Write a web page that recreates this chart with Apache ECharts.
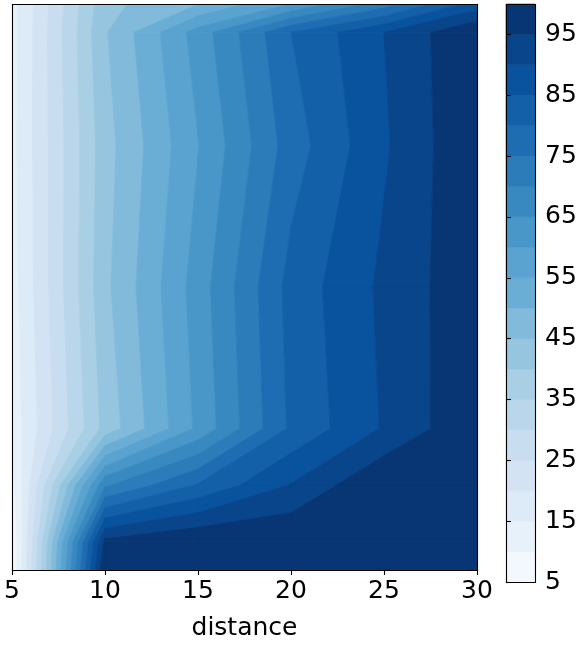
<!DOCTYPE html>
<html><head><meta charset="utf-8">
<script src="https://cdn.jsdelivr.net/npm/echarts@6/dist/echarts.min.js"></script>
<style>html,body{margin:0;padding:0;background:#fff}#c{width:581px;height:646px}</style>
</head><body><div id="c"></div>
<script>
// ---- data ----
const distance = [5, 10, 15, 20, 25, 30];            // grid columns (x)
const rowPos   = [0, 0.05, 0.15, 0.25, 0.5, 0.75, 0.95, 1.0]; // grid rows (y, unlabelled axis)
const z_row_000 = [5.0, 100, 100, 100, 100, 100];
const z_row_005 = [5.0, 96.5, 100, 100, 100, 100];
const z_row_015 = [8.4, 69.2, 80.6, 90.3, 100, 100];
const z_row_025 = [11.8, 41.7, 61.1, 81.0, 90.5, 99.5];
const z_row_050 = [12.8, 43.8, 62.4, 81.9, 91.1, 99.0];
const z_row_075 = [13.5, 43.0, 59.8, 77.5, 89.3, 100];
const z_row_095 = [13.0, 44.5, 62.2, 80.0, 90.0, 100];
const z_row_100 = [13.0, 43.5, 49.8, 60.1, 72.6, 87.5];
const levels = [5,10,15,20,25,30,35,40,45,50,55,60,65,70,75,80,85,90,95,100];
const colorbarTicks = [5,15,25,35,45,55,65,75,85,95];
const xTicks = [5,10,15,20,25,30];

const Z = [z_row_000, z_row_005, z_row_015, z_row_025, z_row_050, z_row_075, z_row_095, z_row_100];

// ---- Blues colormap (matplotlib) ----
const bluesAnchors = ['#f7fbff','#deebf7','#c6dbef','#9ecae1','#6baed6','#4292c6','#2171b5','#08519c','#08306b'];
function hex2rgb(h){return [parseInt(h.slice(1,3),16),parseInt(h.slice(3,5),16),parseInt(h.slice(5,7),16)];}
function blues(t){
  const idx = Math.min(255, Math.max(0, Math.floor(t*256)));
  const s = idx/255*8;
  const k = Math.min(7, Math.floor(s)); const f = s-k;
  const a = hex2rgb(bluesAnchors[k]), b = hex2rgb(bluesAnchors[k+1]);
  const c = a.map((v,n)=>Math.round(v+(b[n]-v)*f));
  return 'rgb('+c.join(',')+')';
}
const lo0 = levels[0], hi0 = levels[levels.length-1];
const bandColors = [];
for (let k=0;k<levels.length-1;k++){
  const mid = (levels[k]+levels[k+1])/2;
  bandColors.push(blues((mid-lo0)/(hi0-lo0)));
}

// ---- contour band clipping ----
function clip(poly, level, sign){
  const out=[];
  for(let n=0;n<poly.length;n++){
    const P=poly[n], Q=poly[(n+1)%poly.length];
    const dp=sign*(P.z-level), dq=sign*(Q.z-level);
    if(dp>=0) out.push(P);
    if((dp>0&&dq<0)||(dp<0&&dq>0)){
      const t=dp/(dp-dq);
      out.push({x:P.x+(Q.x-P.x)*t, y:P.y+(Q.y-P.y)*t, z:level});
    }
  }
  return out;
}
function area(pts){let s=0;for(let n=0;n<pts.length;n++){const a=pts[n],b=pts[(n+1)%pts.length];s+=a[0]*b[1]-b[0]*a[1];}return Math.abs(s/2);}

const cells=[];
for(let j=0;j<rowPos.length-1;j++)for(let i=0;i<distance.length-1;i++){
  cells.push([(distance[i]+distance[i+1])/2,(rowPos[j]+rowPos[j+1])/2,i,j]);
}
function renderCell(params, api){
  const i=api.value(2), j=api.value(3);
  const corners=[[i,j],[i+1,j],[i+1,j+1],[i,j+1]].map(function(c){
    const p=api.coord([distance[c[0]], rowPos[c[1]]]);
    return {x:p[0], y:p[1], z:Z[c[1]][c[0]]};
  });
  const children=[];
  for(let k=0;k<levels.length-1;k++){
    let poly=clip(corners, levels[k], 1);
    if(poly.length<3) continue;
    poly=clip(poly, levels[k+1], -1);
    if(poly.length<3) continue;
    const pts=poly.map(p=>[p.x,p.y]);
    if(area(pts)<0.01) continue;
    children.push({type:'polygon', shape:{points:pts},
      style:{fill:bandColors[k], stroke:bandColors[k], lineWidth:0.8}});
  }
  return {type:'group', children:children};
}

const cbBands=[];
for(let k=0;k<levels.length-1;k++) cbBands.push([0.5,(levels[k]+levels[k+1])/2,levels[k],levels[k+1],k]);
function renderBand(params, api){
  const p0=api.coord([0, api.value(2)]), p1=api.coord([1, api.value(3)]);
  const c=bandColors[api.value(4)];
  return {type:'rect', shape:{x:p0[0], y:p1[1], width:p1[0]-p0[0], height:p0[1]-p1[1]},
    style:{fill:c, stroke:c, lineWidth:0.6}};
}
function renderFrame(params, api){
  const cs=params.coordSys;
  return {type:'rect', shape:{x:cs.x+0.5, y:cs.y+0.5, width:cs.width, height:cs.height},
    style:{fill:'none', stroke:'#000', lineWidth:1.1}};
}

const FONT='DejaVu Sans';
const chart=echarts.init(document.getElementById('c'),null,{renderer:'canvas',width:581,height:646});
chart.setOption({
  animation:false,
  backgroundColor:'#ffffff',
  grid:[
    {left:12,top:4,width:465,height:578,show:false},
    {left:506,top:4,width:29,height:578,show:false}
  ],
  xAxis:[
    {type:'value',gridIndex:0,min:5,max:30,interval:5,z:10,
     axisLine:{show:false},splitLine:{show:false},
     axisTick:{show:true,length:5,lineStyle:{color:'#000',width:1.1},customValues:xTicks},
     axisLabel:{fontSize:25,color:'#000',fontFamily:FONT,margin:9,customValues:xTicks},
     name:'distance',nameLocation:'middle',nameGap:46,
     nameTextStyle:{fontSize:25,color:'#000',fontFamily:FONT}},
    {type:'value',gridIndex:1,min:0,max:1,show:false}
  ],
  yAxis:[
    {type:'value',gridIndex:0,min:0,max:1,show:false},
    {type:'value',gridIndex:1,min:5,max:100,position:'right',z:10,
     axisLine:{show:false},splitLine:{show:false},
     axisTick:{show:true,length:5,lineStyle:{color:'#000',width:1.1},customValues:colorbarTicks},
     axisLabel:{fontSize:25,color:'#000',fontFamily:FONT,margin:10,customValues:colorbarTicks}}
  ],
  series:[
    {type:'custom',xAxisIndex:0,yAxisIndex:0,data:cells,renderItem:renderCell,z:1,silent:true,clip:true},
    {type:'custom',xAxisIndex:1,yAxisIndex:1,data:cbBands,renderItem:renderBand,z:1,silent:true},
    {type:'custom',xAxisIndex:0,yAxisIndex:0,data:[[17.5,0.5]],renderItem:renderFrame,z:20,silent:true},
    {type:'custom',xAxisIndex:1,yAxisIndex:1,data:[[0.5,50]],renderItem:renderFrame,z:20,silent:true}
  ]
});
</script></body></html>
